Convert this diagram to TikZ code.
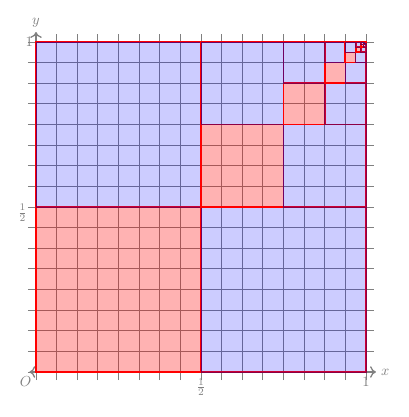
\documentclass[tikz,border=0pt]{standalone}
\usetikzlibrary{arrows.meta}

\begin{document}
\begin{tikzpicture}[
        x=8cm, y=8cm,
        >={To[length=4pt, width=8pt]},
        axis/.style={gray, line width=0.9pt},
        lbl/.style={gray},
        redsq/.style={fill=red, fill opacity=0.3, draw=red, line width=1.1pt},
        bluesq/.style={fill=blue, fill opacity=0.2, draw=blue!60!black, draw opacity=0.45, line width=0.6pt},
        frame/.style={draw=red, line width=1.2pt}
    ]
\useasboundingbox (-0.1091,-0.1364) rectangle (1.1303,1.1273);

% Сетка
        \draw[gray, line width=0.65pt, step=1/16] (-0.025,-0.025) grid (1.025,1.025);

% Оси координат
        \coordinate (O) at (0,0);
        \coordinate (xstart) at (-0.02,0);
        \coordinate (xend) at (1.03,0);
        \coordinate (yend) at (0,1.03);
        \draw[axis, <->] (xstart) -- (xend);
        \draw[axis, ->] (O) -- (yend);

% Квадраты: красный в углу, два синих рядом, дальше то же в правом верхнем
        \foreach \k in {0,...,7} {
            \pgfmathsetmacro{\a}{1-2^(-\k)}
            \pgfmathsetmacro{\h}{2^(-\k-1)}
            \draw[frame] (\a,\a) rectangle (1,1);
            \path[redsq] (\a,\a) rectangle ++(\h,\h);
            \path[bluesq] (\a,\a+\h) rectangle ++(\h,\h);
            \path[bluesq] (\a+\h,\a) rectangle ++(\h,\h);
        }

% Подписи
        \node[lbl, below left, inner sep=3pt] (lO) at (O) {$O$};
        \node[lbl, right] (lx) at (xend) {$x$};
        \node[lbl, above] (ly) at (yend) {$y$};
        \node[lbl, left, inner sep=2pt] (ly1) at (0,1) {$1$};
        \node[lbl, anchor=north east, inner sep=0pt] (lyh) at (-0.026,0.509) {$\frac{1}{2}$};
        \node[lbl, below, inner sep=1pt] (lxh) at (0.5,-0.015) {$\frac{1}{2}$};
        \node[lbl, below, inner sep=2pt] (lx1) at (1,-0.005) {$1$};
    \end{tikzpicture}
\end{document}
